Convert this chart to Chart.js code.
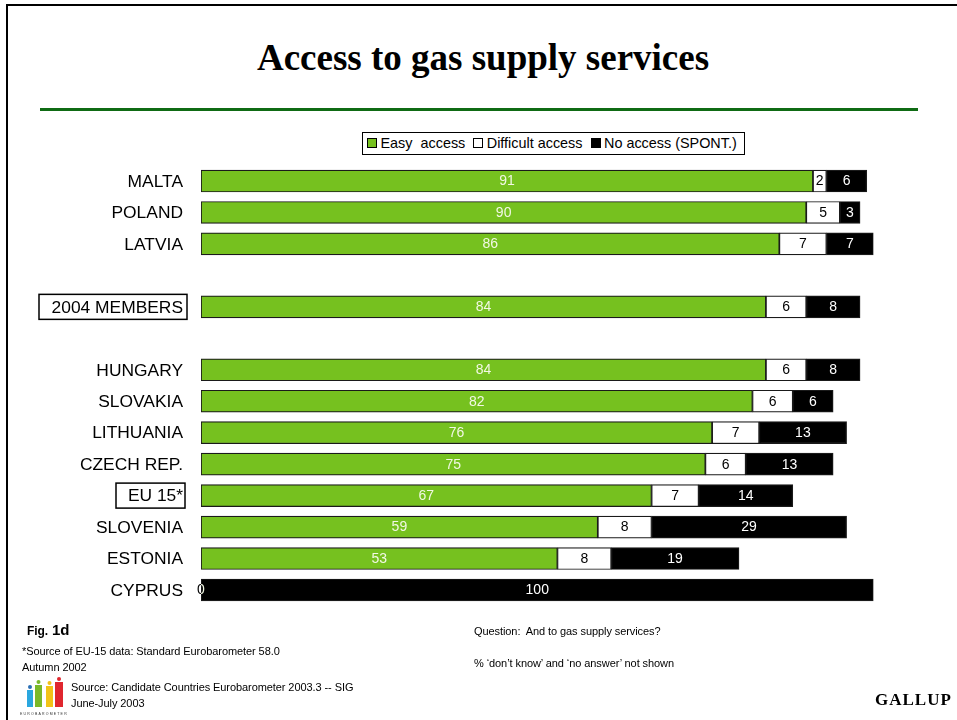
<!DOCTYPE html>
<html>
<head>
<meta charset="utf-8">
<title>Access to gas supply services</title>
<script src="https://cdn.jsdelivr.net/npm/chart.js@4"></script>
<style>
    html, body { margin: 0; padding: 0; background: #fff; }
    body { position: relative; width: 957px; height: 720px; overflow: hidden; font-family: "Liberation Sans", sans-serif; color: #000; }
    #frame-top { position: absolute; left: 6px; top: 4px; width: 951px; height: 2px; background: #000; }
    #frame-left { position: absolute; left: 6px; top: 4px; width: 2px; height: 716px; background: #000; }
    #title { position: absolute; left: 0; width: 966px; top: 36px; text-align: center; font: bold 37px "Liberation Serif", serif; }
    #rule { position: absolute; left: 40px; top: 108px; width: 878px; height: 3px; background: #0f6b14; }
    #chart { position: absolute; left: 0; top: 0; }
    #legend { position: absolute; left: 362px; top: 132px; width: 383px; height: 23px; box-sizing: border-box; border: 1px solid #000; font-size: 14.4px; line-height: 21px; white-space: pre; padding-left: 4px; background: #fff; }
    #legend i { display: inline-block; width: 8px; height: 8px; border: 1px solid #000; margin: 0 3.5px 0 0; }
    #legend span { margin-right: 8px; }
    .note { position: absolute; white-space: pre; font-size: 11px; letter-spacing: -0.08px; }
    #gallup { position: absolute; left: 875px; top: 690px; font: bold 17px "Liberation Serif", serif; letter-spacing: 1px; }
    #logo { position: absolute; left: 20px; top: 677px; }
</style>
</head>
<body>
    <div id="frame-top"></div>
    <div id="frame-left"></div>
    <div id="title">Access to gas supply services</div>
    <div id="rule"></div>
    <canvas id="chart" width="957" height="720"></canvas>
    <div id="legend"></div>

    <div class="note" style="left:27px;top:621px;font-size:12px;font-weight:bold">Fig.<span style="font-size:15px"> 1d</span></div>
    <div class="note" style="left:22px;top:645px">*Source of EU-15 data: Standard Eurobarometer 58.0</div>
    <div class="note" style="left:22px;top:661px">Autumn 2002</div>
    <div class="note" style="left:71px;top:681px">Source: Candidate Countries Eurobarometer 2003.3 -- SIG</div>
    <div class="note" style="left:71px;top:697px">June-July 2003</div>
    <div class="note" style="left:474px;top:625px">Question:  And to gas supply services?</div>
    <div class="note" style="left:474px;top:657px">% ‘don’t know’ and ‘no answer’ not shown</div>
    <div id="gallup">GALLUP</div>

    <svg id="logo" width="50" height="43" viewBox="0 0 50 43">
        <rect x="7" y="13" width="6" height="17" fill="#2aa7df"/><circle cx="10" cy="10" r="2" fill="#2b6fb5"/>
        <rect x="15" y="8" width="7" height="22" fill="#7ab929"/><circle cx="18.500" cy="5" r="2" fill="#7ab929"/>
        <rect x="26" y="9" width="7" height="21" fill="#f2c318"/><circle cx="29.500" cy="6" r="2" fill="#f2c318"/>
        <rect x="35" y="5" width="8" height="25" fill="#e0262e"/><circle cx="39" cy="2" r="2" fill="#e0262e"/>
        <text x="0" y="38" font-family="Liberation Sans" font-size="3.500" letter-spacing="1.2" fill="#333">EUROBAROMETER</text>
    </svg>

<script>
// Rows, top to bottom. Blank strings leave a gap between the groups.
const countries = ['MALTA', 'POLAND', 'LATVIA', '', '2004 MEMBERS', '', 'HUNGARY', 'SLOVAKIA', 'LITHUANIA', 'CZECH REP.', 'EU 15*', 'SLOVENIA', 'ESTONIA', 'CYPRUS'];
const easyAccess = [91, 90, 86, null, 84, null, 84, 82, 76, 75, 67, 59, 53, 0];
const difficultAccess = [2, 5, 7, null, 6, null, 6, 6, 7, 6, 7, 8, 8, 0];
const noAccess = [6, 3, 7, null, 8, null, 8, 6, 13, 13, 14, 29, 19, 100];
const boxedRows = { '2004 MEMBERS': [39, 187], 'EU 15*': [116, 185] };

const seriesNames = ['Easy  access', 'Difficult access', 'No access (SPONT.)'];
const seriesColors = ['#76c11f', '#ffffff', '#000000'];
const labelColors = ['#f2f8e4', '#000000', '#ffffff'];

// Legend box above the plot
document.getElementById('legend').innerHTML = seriesNames.map((name, i) =>
    `<i style="background:${seriesColors[i]}"></i><span>${name}</span>`).join('');

// Values centred in each segment, plus the boxes around the two summary rows
const rowAnnotations = {
    id: 'rowAnnotations',
    afterDatasetsDraw(chart) {
        const ctx = chart.ctx;
        const area = chart.chartArea;
        ctx.save();
        ctx.font = '14px "Liberation Sans"';
        ctx.textAlign = 'center';
        ctx.textBaseline = 'middle';
        // Last series first; the white green-series labels stay inside the plot
        for (let d = chart.data.datasets.length - 1; d >= 0; d--) {
            const dataset = chart.data.datasets[d];
            ctx.save();
            if (d === 0) {
                ctx.beginPath();
                ctx.rect(area.left, area.top, area.right - area.left, area.bottom - area.top);
                ctx.clip();
            }
            ctx.fillStyle = labelColors[d];
            chart.getDatasetMeta(d).data.forEach((bar, i) => {
                const value = dataset.data[i];
                if (value === null) return;
                const { x, base, y } = bar.getProps(['x', 'base', 'y'], true);
                ctx.fillText(value, (x + base) / 2, y + 0.5);
            });
            ctx.restore();
        }
        ctx.strokeStyle = '#000';
        ctx.lineWidth = 1.5;
        Object.keys(boxedRows).forEach(name => {
            const y = chart.scales.y.getPixelForValue(countries.indexOf(name));
            const [left, right] = boxedRows[name];
            ctx.strokeRect(left, y - 12.5, right - left, 25);
        });
        ctx.restore();
    }
};

new Chart(document.getElementById('chart'), {
    type: 'bar',
    data: {
        labels: countries,
        datasets: [easyAccess, difficultAccess, noAccess].map((values, i) => ({
            label: seriesNames[i],
            data: values,
            backgroundColor: seriesColors[i],
            borderColor: '#1a1a1a',
            borderWidth: 1.2,
            borderSkipped: false,
            barThickness: 22
        }))
    },
    options: {
        indexAxis: 'y',
        responsive: false,
        animation: false,
        layout: { padding: { left: 0, right: 83.5, top: 165.3, bottom: 114.3 } },
        plugins: { legend: { display: false }, tooltip: { enabled: false } },
        scales: {
            x: { stacked: true, min: 0, max: 100, display: false },
            y: {
                stacked: true,
                grid: { display: false },
                border: { display: false },
                afterFit(scale) { scale.width = 201; },
                ticks: {
                    padding: 10,
                    labelOffset: 1,
                    autoSkip: false,
                    color: '#000',
                    font: { family: '"Liberation Sans"', size: 17.4 }
                }
            }
        }
    },
    plugins: [rowAnnotations]
});
</script>
</body>
</html>
